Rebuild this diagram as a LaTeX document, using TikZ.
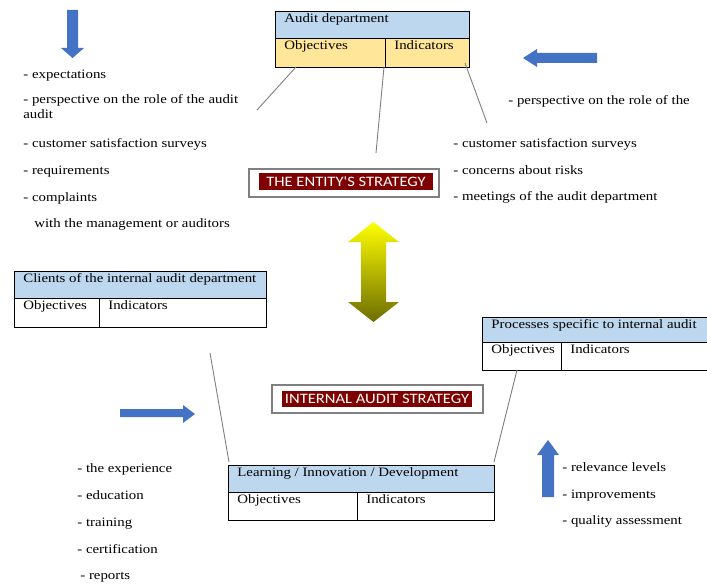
\documentclass[tikz,border=0pt]{standalone}
\usepackage{fontspec}
\setmainfont{Liberation Serif}[FakeStretch=1.16]
\newfontfamily\stratfont{Carlito}[FakeStretch=1.15]
\usetikzlibrary{positioning}
\definecolor{hdrblue}{HTML}{BDD7EE}
\definecolor{objyellow}{HTML}{FFE699}
\definecolor{arrowblue}{HTML}{4472C4}
\definecolor{stratred}{HTML}{7F0000}
\definecolor{linkgray}{HTML}{7F7F7F}
\tikzset{every picture/.style={line width=0.75pt}}
\tikzset{
  cell/.style={draw=black, line width=0.8pt, anchor=north west, inner sep=0pt, outer sep=0pt},
  celltxt/.style={anchor=base west, inner sep=0pt, xshift=9pt, yshift=-11.5pt, font=\fontsize{12.8}{15}\selectfont},
  item/.style={anchor=base west, inner sep=0pt, font=\fontsize{12.8}{15}\selectfont},
  stratframe/.style={draw=gray, line width=1.2pt, fill=white, inner sep=0pt},
  strattag/.style={fill=stratred, text=white, inner sep=0pt, font=\stratfont\fontsize{14.4}{16}\selectfont},
  link/.style={draw=linkgray, line width=0.9pt},
  blockarrow/.style={fill=arrowblue, draw=none}
}

\begin{document}
\begin{tikzpicture}[x=1pt,y=-1pt]
    \useasboundingbox (0,0) rectangle (707,586);

    % Audit department table
    \node[cell, fill=hdrblue, minimum width=194pt, minimum height=27pt,
          label={[celltxt]north west:Audit department}] (adhdr) at (275,11) {};
    \node[cell, fill=objyellow, minimum width=110pt, minimum height=29pt,
          label={[celltxt]north west:Objectives}] (adobj) at (adhdr.south west) {};
    \node[cell, fill=objyellow, minimum width=84pt, minimum height=29pt,
          label={[celltxt]north west:Indicators}] (adind) at (adobj.north east) {};

    % Clients table
    \node[cell, fill=hdrblue, minimum width=252pt, minimum height=27pt,
          label={[celltxt]north west:Clients of the internal audit department}] (clhdr) at (14,271) {};
    \node[cell, fill=white, minimum width=85pt, minimum height=29pt,
          label={[celltxt]north west:Objectives}] (clobj) at (clhdr.south west) {};
    \node[cell, fill=white, minimum width=167pt, minimum height=29pt,
          label={[celltxt]north west:Indicators}] (clind) at (clobj.north east) {};

    % Processes table (cut at the right edge)
    \node[cell, fill=hdrblue, minimum width=230pt, minimum height=25pt,
          label={[celltxt]north west:Processes specific to internal audit}] (prhdr) at (482,317) {};
    \node[cell, fill=white, minimum width=79pt, minimum height=28pt,
          label={[celltxt]north west:Objectives}] (probj) at (prhdr.south west) {};
    \node[cell, fill=white, minimum width=151pt, minimum height=28pt,
          label={[celltxt]north west:Indicators}] (prind) at (probj.north east) {};

    % Learning table
    \node[cell, fill=hdrblue, minimum width=266pt, minimum height=27pt,
          label={[celltxt]north west:Learning / Innovation / Development}] (lidhdr) at (228,465) {};
    \node[cell, fill=white, minimum width=129pt, minimum height=28pt,
          label={[celltxt]north west:Objectives}] (lidobj) at (lidhdr.south west) {};
    \node[cell, fill=white, minimum width=137pt, minimum height=28pt,
          label={[celltxt]north west:Indicators}] (lidind) at (lidobj.north east) {};

    % Strategy labels
    \node[stratframe, minimum width=190pt, minimum height=28pt] (entframe) at (344,183) {};
    \node[strattag, minimum width=174pt, minimum height=17pt] (entity) at (346,181.5) {THE ENTITY'S STRATEGY};
    \node[stratframe, minimum width=211pt, minimum height=28pt] (iaframe) at (377.5,399) {};
    \node[strattag, minimum width=190pt, minimum height=16pt] (iastrat) at (377,398.5) {INTERNAL AUDIT STRATEGY};

    % Double arrow between the strategies
    \shade[top color=yellow, bottom color=olive!85!black]
        (373.5,222) -- (399,242) -- (386,242) -- (386,302) -- (399,302) -- (373.5,322)
        -- (348,302) -- (361,302) -- (361,242) -- (348,242) -- cycle;

    % Blue arrows
    \fill[blockarrow] (67,10) -- (78,10) -- (78,48) -- (84,48) -- (72.5,58) -- (61,48) -- (67,48) -- cycle;
    \fill[blockarrow] (597,53) -- (537,53) -- (537,49) -- (523,58) -- (537,67) -- (537,63) -- (597,63) -- cycle;
    \fill[blockarrow] (120,409) -- (183,409) -- (183,405) -- (195,414) -- (183,423) -- (183,417) -- (120,417) -- cycle;
    \fill[blockarrow] (542,497) -- (542,455) -- (537,455) -- (548,440) -- (559,455) -- (554,455) -- (554,497) -- cycle;

    % Connector lines
    \coordinate (adl) at (257,110);
    \coordinate (adm) at (376,153);
    \coordinate (adr) at (487,123);
    \coordinate (cll) at (210,353);
    \draw[link] ([xshift=21pt]adobj.south west) -- (adl);
    \draw[link] ([xshift=-1pt]adobj.south east) -- (adm);
    \draw[link] ([xshift=-4pt,yshift=4pt]adind.south east) -- (adr);
    \draw[link] ([xshift=1pt,yshift=3pt]lidhdr.north west) -- (cll);
    \draw[link] ([yshift=3pt]lidhdr.north east) -- ([xshift=35pt]probj.south west);

    % Left top list
    \node[item] (lt1) at (23,78) {- expectations};
    \node[item] (lt2) at (23,103) {- perspective on the role of the audit};
    \node[item] (lt3) at (23,118) {audit};
    \node[item] (lt4) at (23,147) {- customer satisfaction surveys};
    \node[item] (lt5) at (23,174) {- requirements};
    \node[item] (lt6) at (23,201) {- complaints};
    \node[item] (lt7) at (34,227) {with the management or auditors};

    % Right top list
    \node[item] (rt1) at (508,104) {- perspective on the role of the};
    \node[item] (rt2) at (453,147) {- customer satisfaction surveys};
    \node[item] (rt3) at (453,174) {- concerns about risks};
    \node[item] (rt4) at (453,200) {- meetings of the audit department};

    % Bottom left list
    \node[item] (lb1) at (77,472) {- the experience};
    \node[item] (lb2) at (77,499) {- education};
    \node[item] (lb3) at (77,526) {- training};
    \node[item] (lb4) at (77,553) {- certification};
    \node[item] (lb5) at (80,579) {- reports};

    % Bottom right list
    \node[item] (rb1) at (562,471) {- relevance levels};
    \node[item] (rb2) at (562,498) {- improvements};
    \node[item] (rb3) at (562,524) {- quality assessment};
\end{tikzpicture}
\end{document}
